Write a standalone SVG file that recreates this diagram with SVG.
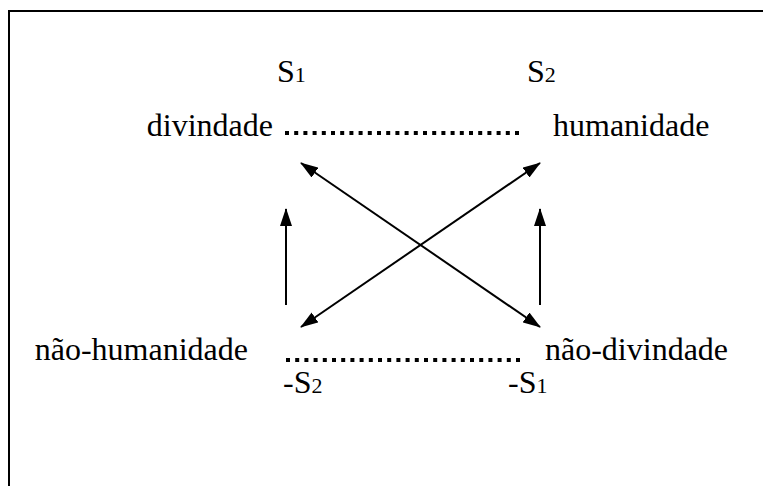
<svg xmlns="http://www.w3.org/2000/svg" width="763" height="486" viewBox="0 0 763 486">
<style>
.t{font-family:'Liberation Serif','Times New Roman',Times,serif;font-size:32px;fill:#000}
.sub{font-size:22px}
.dots{stroke:#000;stroke-width:4;stroke-dasharray:4 5.2;fill:none}
.arr{stroke:#000;stroke-width:2;fill:none}
</style>
<defs>
<marker id="ah" viewBox="0 0 18 12" refX="17" refY="6" markerWidth="18" markerHeight="12" markerUnits="userSpaceOnUse" orient="auto-start-reverse">
<path d="M0,0 L18,6 L0,12 Z" fill="#000"/>
</marker>
</defs>
<rect width="763" height="486" fill="#fff"/>
<path d="M9,486 V11 H763" stroke="#000" stroke-width="2" fill="none"/>
<g id="s1"><text class="t" x="277" y="82">S<tspan class="sub">1</tspan></text></g>
<g id="s2"><text class="t" x="527" y="82">S<tspan class="sub">2</tspan></text></g>
<g id="divindade"><text class="t" x="273" y="136" text-anchor="end">divindade</text></g>
<g id="humanidade"><text class="t" x="553" y="136">humanidade</text></g>
<g id="nao-humanidade"><text class="t" x="248" y="360" text-anchor="end">não-humanidade</text></g>
<g id="nao-divindade"><text class="t" x="545" y="360">não-divindade</text></g>
<g id="ms2"><text class="t" x="283" y="393">-S<tspan class="sub">2</tspan></text></g>
<g id="ms1"><text class="t" x="508" y="393">-S<tspan class="sub">1</tspan></text></g>
<g id="connectors">
<line class="dots" x1="285" y1="133" x2="523" y2="133"/>
<line class="dots" x1="286" y1="360" x2="524" y2="360"/>
<line class="arr" x1="286" y1="305" x2="286" y2="209" marker-end="url(#ah)"/>
<line class="arr" x1="540" y1="305" x2="540" y2="209" marker-end="url(#ah)"/>
<line class="arr" x1="301" y1="163" x2="540" y2="327" marker-start="url(#ah)" marker-end="url(#ah)"/>
<line class="arr" x1="540" y1="163" x2="301" y2="327" marker-start="url(#ah)" marker-end="url(#ah)"/>
</g>
</svg>
